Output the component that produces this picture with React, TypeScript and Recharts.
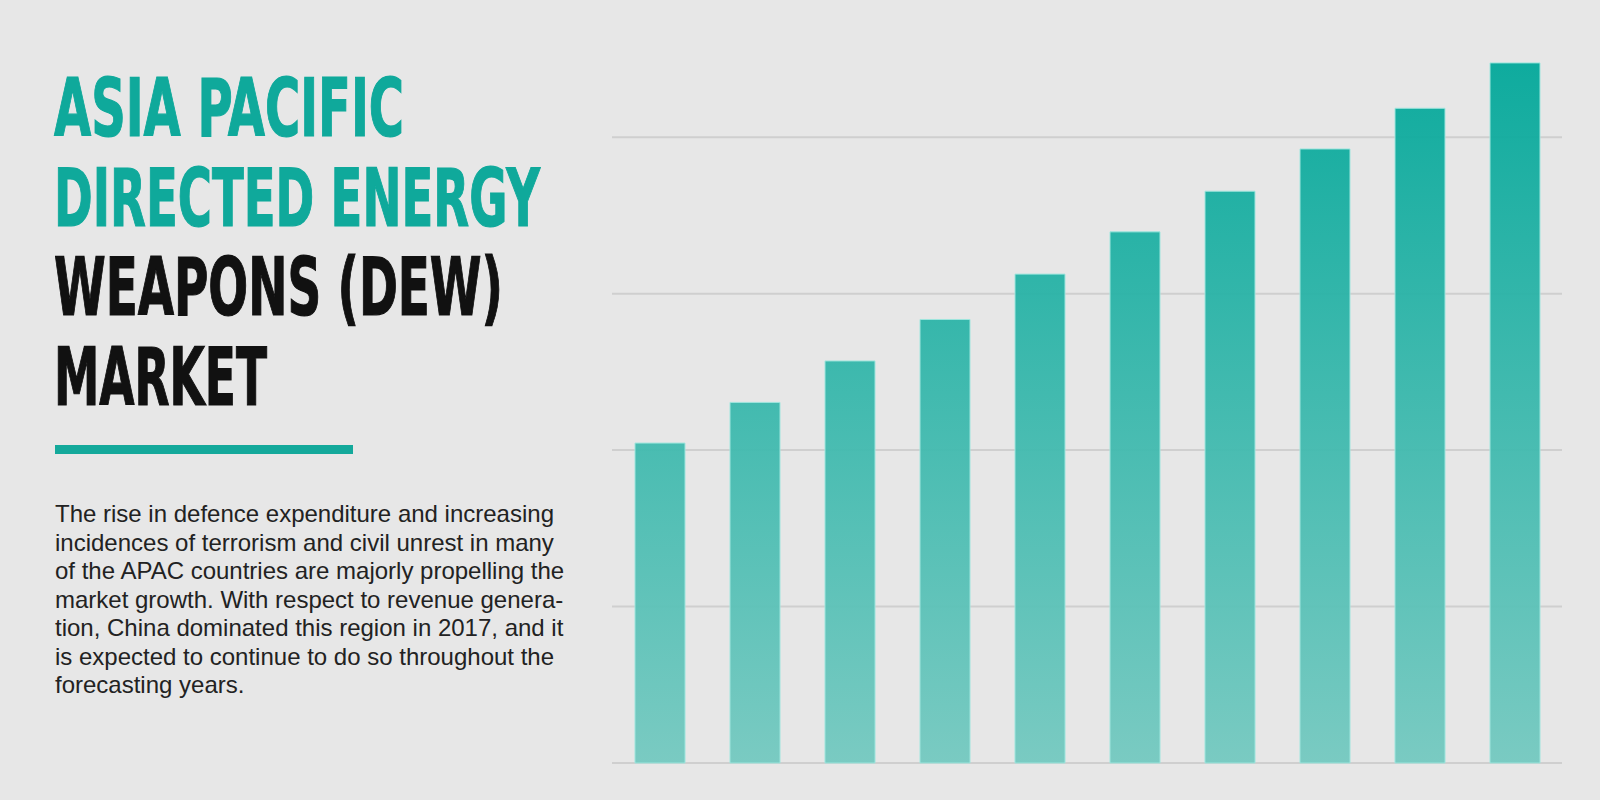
import { BarChart, Bar, XAxis, YAxis, CartesianGrid } from "recharts";

const years = ["2017", "2018", "2019", "2020", "2021", "2022", "2023", "2024", "2025", "2026"];
const revenue = [40.9, 46.1, 51.4, 56.7, 62.5, 67.9, 73.1, 78.5, 83.7, 89.5];
const gridTicks = [0, 20, 40, 60, 80];

const titleLines = [
  { text: "ASIA PACIFIC", color: "#0fa99b", length: 350 },
  { text: "DIRECTED ENERGY", color: "#0fa99b", length: 486 },
  { text: "WEAPONS (DEW)", color: "#111111", length: 449 },
  { text: "MARKET", color: "#111111", length: 213 }
];

const paragraph = [
  "The rise in defence expenditure and increasing",
  "incidences of terrorism and civil unrest in many",
  "of the APAC countries are majorly propelling the",
  "market growth. With respect to revenue genera-",
  "tion, China dominated this region in 2017, and it",
  "is expected to continue to do so throughout the",
  "forecasting years."
];

const chartData = years.map((year, i) => ({ year, value: revenue[i] }));

const LeftPanel = () => (
  <svg width={1600} height={800} style={{ position: "absolute", left: 0, top: 0 }}>
    {titleLines.map((line, i) => (
      <text
        key={line.text}
        x={54}
        y={136 + i * 89.6}
        fill={line.color}
        stroke={line.color}
        strokeWidth={1.2}
        fontFamily="'Liberation Sans Narrow', 'DejaVu Sans Condensed', sans-serif"
        fontWeight="bold"
        fontSize={81}
        textLength={line.length}
        lengthAdjust="spacingAndGlyphs"
      >
        {line.text}
      </text>
    ))}
    <rect x={55} y={445} width={298} height={9} fill="#14a99b" />
    {paragraph.map((line, i) => (
      <text
        key={i}
        x={55}
        y={522 + i * 28.5}
        fill="#222222"
        fontFamily="'Liberation Sans', Arial, sans-serif"
        fontSize={24}
      >
        {line}
      </text>
    ))}
  </svg>
);

export default function App() {
  return (
    <div
      style={{
        position: "absolute",
        left: 0,
        top: 0,
        width: 1600,
        height: 800,
        background: "#e7e7e7",
        overflow: "hidden"
      }}
    >
      <LeftPanel />
      <div style={{ position: "absolute", left: 0, top: 0 }}>
        <BarChart
          width={1600}
          height={800}
          data={chartData}
          margin={{ top: 59, right: 38, bottom: 37, left: 612 }}
        >
          <defs>
            <linearGradient id="barGrad" gradientUnits="userSpaceOnUse" x1={0} y1={63} x2={0} y2={763}>
              <stop offset="0%" stopColor="#03a89a" />
              <stop offset="100%" stopColor="#74c9c0" />
            </linearGradient>
          </defs>
          <CartesianGrid vertical={false} horizontalValues={gridTicks} stroke="#cfcfcf" strokeWidth={2} />
          <XAxis dataKey="year" hide />
          <YAxis hide domain={[0, 90]} ticks={gridTicks} />
          <Bar
            dataKey="value"
            barSize={50}
            fill="url(#barGrad)"
            fillOpacity={0.95}
            stroke="#9fe6de"
            strokeWidth={1}
            isAnimationActive={false}
          />
        </BarChart>
      </div>
    </div>
  );
}
